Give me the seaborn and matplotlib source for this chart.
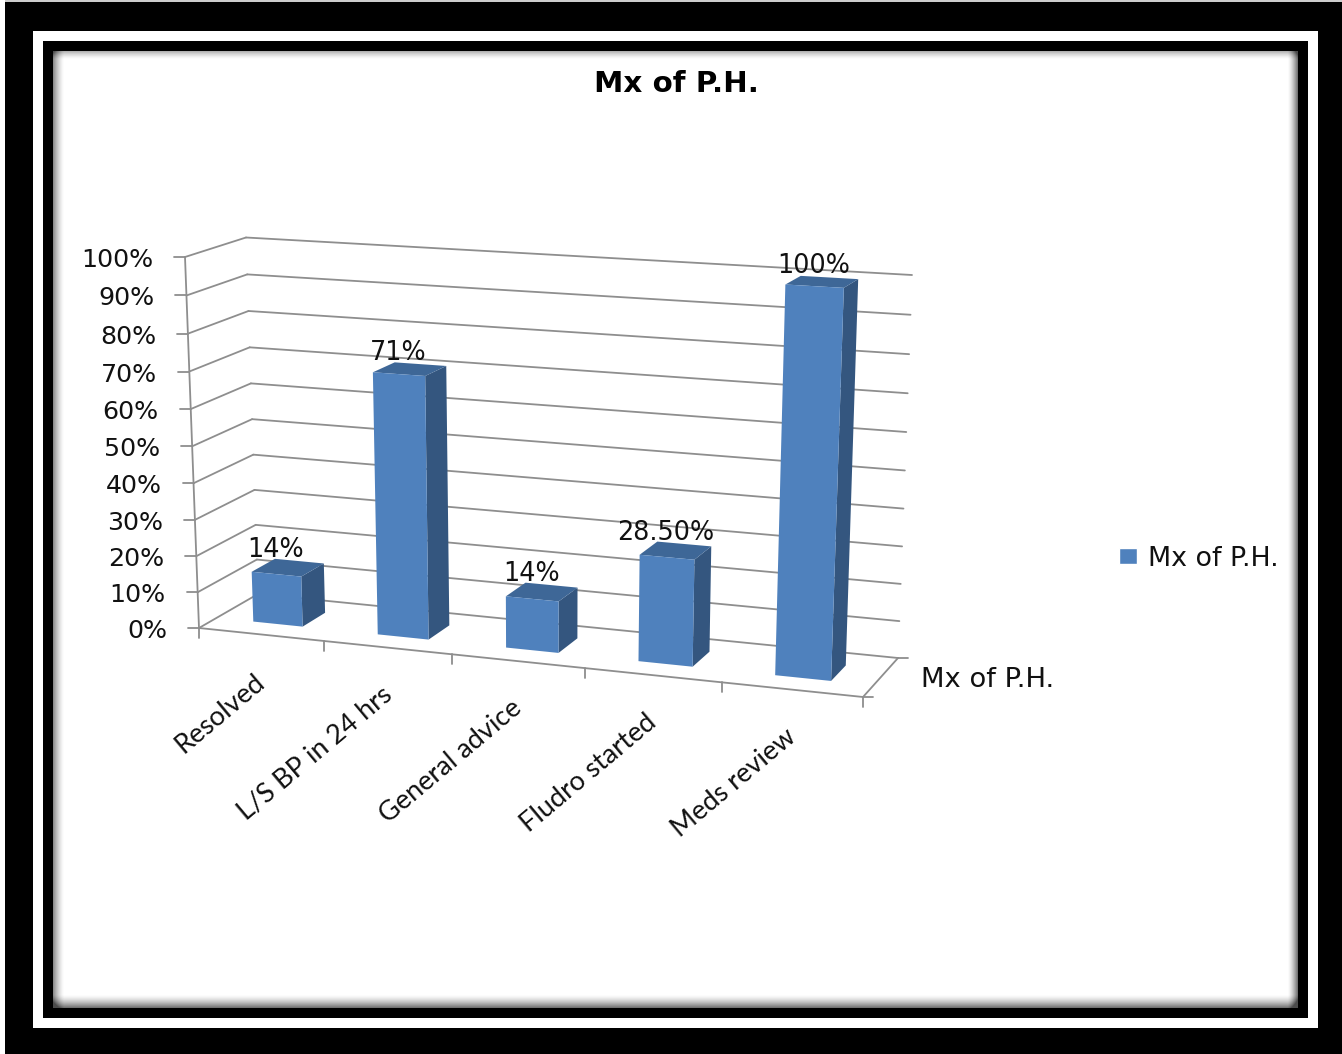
import numpy as np
import pandas as pd
import matplotlib
matplotlib.use("Agg")
import matplotlib.pyplot as plt
from matplotlib.patches import Polygon
from matplotlib.transforms import Transform
import seaborn as sns

# Chart data
categories = ["Resolved", "L/S BP in 24 hrs", "General advice", "Fludro started", "Meds review"]
shares = [14, 71, 14, 28.5, 100]
share_labels = ["14%", "71%", "14%", "28.50%", "100%"]
axis_ticks = list(range(0, 101, 10))
series_name = "Mx of P.H."
title_text = "Mx of P.H."

WIDTH, HEIGHT = 1342, 1054

FACE = "#4F81BD"
SIDE = "#34567F"
TOP = "#3E6797"
GRID = "#8E8E8E"
INK = "#111111"

sns.set_theme(style="white")
plt.rcParams["font.family"] = ["DejaVu Sans"]


def homography(quad):
    """Plane mapping (x, value) to pixels, from its four corners."""
    src = [(-0.5, 0), (4.5, 0), (-0.5, 100), (4.5, 100)]
    rows, rhs = [], []
    for (s, t), (px, py) in zip(src, quad):
        rows.append([s, t, 1, 0, 0, 0, -s * px, -t * px])
        rows.append([0, 0, 0, s, t, 1, -s * py, -t * py])
        rhs += [px, py]
    return np.append(np.linalg.solve(np.array(rows, float), np.array(rhs, float)), 1).reshape(3, 3)


FRONT_PLANE = homography([(199, 628), (863, 697), (185, 257), (878, 297)])
BACK_PLANE = homography([(258, 594), (898, 658), (246, 237.5), (912, 275)])


def to_pixels(xy, depth):
    xy = np.atleast_2d(np.asarray(xy, float))
    h = np.column_stack([xy, np.ones(len(xy))])
    front = h @ FRONT_PLANE.T
    back = h @ BACK_PLANE.T
    front = front[:, :2] / front[:, 2:]
    back = back[:, :2] / back[:, 2:]
    return (1 - depth) * front + depth * back


class BoxProjection(Transform):
    """Category/value coordinates on a slice of the chart box, in figure fractions."""
    input_dims = 2
    output_dims = 2
    is_separable = False
    has_inverse = False

    def __init__(self, slice_depth):
        super().__init__()
        self.slice_depth = slice_depth

    def transform_non_affine(self, values):
        p = to_pixels(values, self.slice_depth)
        return np.column_stack([p[:, 0] / WIDTH, 1 - p[:, 1] / HEIGHT])


def frac(pixels):
    pixels = np.atleast_2d(pixels)
    return np.column_stack([pixels[:, 0] / WIDTH, 1 - pixels[:, 1] / HEIGHT])


fig = plt.figure(figsize=(WIDTH / 100, HEIGHT / 100), dpi=100)

# Picture frame: black and white bands around a softly shaded panel
frame = np.zeros((HEIGHT, WIDTH))
frame[:2, :] = 0.8
frame[:, :5] = 1.0
frame[31:1028, 33:1318] = 1.0
frame[41:1018, 43:1308] = 0.0
panel = np.ones((1008 - 51, 1298 - 53))
py, px = np.mgrid[0:panel.shape[0], 0:panel.shape[1]]
panel -= 0.45 * np.clip(1 - px / 11, 0, 1) ** 1.5
panel -= 0.55 * np.clip(1 - (panel.shape[1] - 1 - px) / 10, 0, 1) ** 1.5
panel -= 0.30 * np.clip(1 - py / 8, 0, 1) ** 1.5
panel -= 0.55 * np.clip(1 - (panel.shape[0] - 1 - py) / 13, 0, 1) ** 1.5
frame[51:1008, 53:1298] = np.clip(panel, 0.3, 1)
bg = fig.add_axes([0, 0, 1, 1], zorder=0)
bg.imshow(frame, cmap="gray", vmin=0, vmax=1, aspect="auto", interpolation="nearest")
bg.axis("off")

ax = fig.add_axes([0, 0, 1, 1], zorder=1)
ax.patch.set_alpha(0)

df = pd.DataFrame({"category": categories, "share": shares})
sns.barplot(data=df, x="category", y="share", ax=ax, color=FACE, saturation=1,
            width=0.4, label=series_name, legend=False, zorder=5)
ax.set_xlim(-0.5, 4.5)
ax.set_ylim(0, 100)
bars = list(ax.patches)

legend = ax.legend(handles=[ax.containers[0]], labels=[series_name], loc="center left",
                   bbox_to_anchor=(1119 / WIDTH, 1 - 558.5 / HEIGHT), bbox_transform=fig.transFigure,
                   frameon=False, fontsize=19.4, handlelength=0.68, handleheight=0.58,
                   handletextpad=0.38, borderaxespad=0, borderpad=0, labelcolor=INK)

LINE = dict(color=GRID, lw=1.3, zorder=2, clip_on=False)
back_proj = BoxProjection(1.0) + fig.transFigure
front_proj = BoxProjection(0.0) + fig.transFigure


def pixel_line(p, q):
    ax.plot(*frac([p, q]).T, transform=fig.transFigure, **LINE)


# Back wall gridlines and the left wall returning to the value axis
for tick in axis_ticks:
    if tick > 0:
        ax.plot([-0.5, 4.5], [tick, tick], transform=back_proj, **LINE)
    a = to_pixels([(-0.5, tick)], 0.0)[0]
    b = to_pixels([(-0.5, tick)], 1.0)[0]
    pixel_line(a, b)
    pixel_line(a, a - (11, 0))
    ax.text(*frac(a - (32, -3))[0], f"{tick}%", transform=fig.transFigure, ha="right", va="center",
            fontsize=18.2, color=INK, zorder=8)

# Floor outline, back edge of the floor, value axis and ticks
ax.plot([-0.5, 4.5], [0, 0], transform=front_proj, **LINE)
ax.plot([-0.5, 4.5], [0, 0], transform=back_proj, **LINE)
ax.plot([-0.5, -0.5], [0, 100], transform=front_proj, **LINE)
right_front = to_pixels([(4.5, 0)], 0.0)[0]
right_back = to_pixels([(4.5, 0)], 1.0)[0]
pixel_line(right_front, right_back)
pixel_line(right_back, right_back + (10, 0))
pixel_line(right_front, right_front + (10, 0))
for edge in np.arange(-0.5, 5):
    base = to_pixels([(edge, 0)], 0.0)[0]
    pixel_line(base, base + (0, 10))

# Turn each bar into a box: projected front, dark side and top
D_FRONT, D_BACK = 0.3, 0.7
for bar, text in zip(bars, share_labels):
    x0, x1, h = bar.get_x(), bar.get_x() + bar.get_width(), bar.get_height()
    bar.set_transform(BoxProjection(D_FRONT) + fig.transFigure)
    bar.set_linewidth(0)
    bar.set_clip_on(False)
    side = np.vstack([to_pixels([(x1, 0), (x1, h)], D_FRONT), to_pixels([(x1, h), (x1, 0)], D_BACK)])
    top = np.vstack([to_pixels([(x0, h), (x1, h)], D_FRONT), to_pixels([(x1, h), (x0, h)], D_BACK)])
    ax.add_patch(Polygon(frac(side), closed=True, transform=fig.transFigure, facecolor=SIDE, lw=0, zorder=4, clip_on=False))
    ax.add_patch(Polygon(frac(top), closed=True, transform=fig.transFigure, facecolor=TOP, lw=0, zorder=4, clip_on=False))
    # Value label sits over the front face, just above the back edge of the top
    cx = to_pixels([((x0 + x1) / 2, h)], D_FRONT)[0, 0]
    cy = to_pixels([((x0 + x1) / 2, h)], D_BACK)[0, 1]
    ax.text(*frac([cx - 1, cy - 4])[0], text, transform=fig.transFigure, ha="center", va="baseline",
            fontsize=18.4, color=INK, zorder=8)

# Rotated category names under the floor
for i, name in enumerate(categories):
    base = to_pixels([(i, 0)], 0.0)[0]
    ax.text(*frac(base + (1, 44))[0], name, transform=fig.transFigure, rotation=40, rotation_mode="anchor",
            ha="right", va="center", fontsize=19.5, color=INK, family="Lato", zorder=8)

# Series name on the depth axis, and the chart title
ax.text(921 / WIDTH, 1 - 680 / HEIGHT, series_name, transform=fig.transFigure, ha="left", va="center",
        fontsize=19.7, color=INK, zorder=8)
ax.text(676 / WIDTH, 1 - 84 / HEIGHT, title_text, transform=fig.transFigure, ha="center", va="center",
        fontsize=21.2, fontweight="bold", color="black", zorder=8)

ax.axis("off")
fig.savefig("out.png", dpi=100)
